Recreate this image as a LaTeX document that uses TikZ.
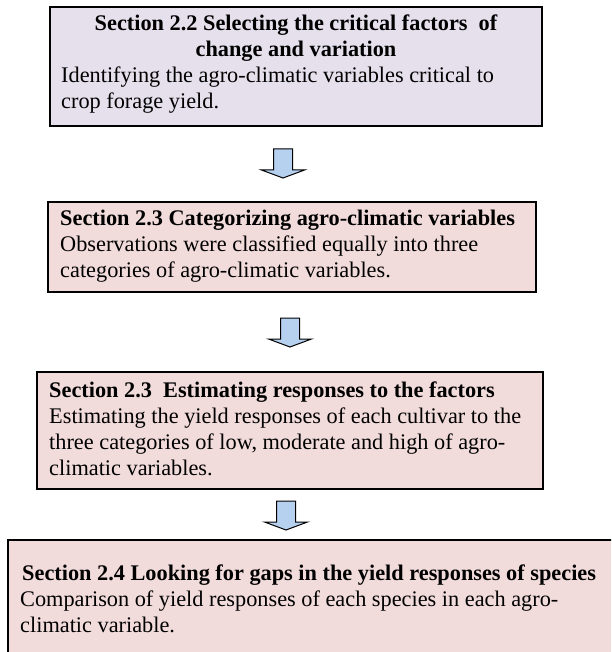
\documentclass[tikz,border=0pt]{standalone}
\usepackage{fontspec}
\setmainfont{Liberation Serif}
\definecolor{lav}{HTML}{E5E0EC}
\definecolor{pinkbox}{HTML}{F2DCDB}
\definecolor{arrowblue}{HTML}{B6D0F0}
\tikzset{
  boxa/.style={draw=black, line width=1.2pt, fill=lav},
  boxb/.style={draw=black, line width=1.2pt, fill=pinkbox},
  txt/.style={anchor=base west, inner sep=0pt, font=\fontsize{22.3}{26}\selectfont},
  ttl/.style={txt, font=\fontsize{22.3}{26}\selectfont\bfseries},
  ctr/.style={anchor=base, inner sep=0pt, font=\fontsize{22.3}{26}\selectfont\bfseries},
  arrowstyle/.style={draw=black, line width=1pt, fill=arrowblue, line join=miter},
  downarr/.pic={\draw[arrowstyle] (-9.5,-29) -- (9.5,-29) -- (9.5,-8) -- (21.5,-8) -- (0,0) -- (-21.5,-8) -- (-9.5,-8) -- cycle;}
}
\begin{document}
\begin{tikzpicture}[x=1pt,y=-1pt]
\useasboundingbox (0,0) rectangle (611,652);
\clip (0,0) rectangle (611,652);
% boxes
\path[boxa] (50,7) rectangle (542,126);
\node[inner sep=0pt, minimum width=492pt, minimum height=119pt] (b1) at (296,66.5) {};
\path[boxb] (48,202) rectangle (536,292);
\node[inner sep=0pt, minimum width=488pt, minimum height=90pt] (b2) at (292,247) {};
\path[boxb] (37,372) rectangle (543,489);
\node[inner sep=0pt, minimum width=506pt, minimum height=117pt] (b3) at (290,430.5) {};
\path[boxb] (8,540) rectangle (630,670);
\node[inner sep=0pt, minimum width=622pt, minimum height=130pt] (b4) at (319,605) {};
% texts box 1
\node[ctr] (t1a) at (296,31) {Section 2.2 Selecting the critical factors\ \ of};
\node[ctr] (t1b) at (296,57) {change and variation};
\node[txt] (t1c) at (61,83) {Identifying the agro-climatic variables critical to};
\node[txt] (t1d) at (61,109) {crop forage yield.};
% box 2
\node[ttl] (t2a) at (60,225) {Section 2.3 Categorizing agro-climatic variables};
\node[txt] (t2b) at (60,251) {Observations were classified equally into three};
\node[txt] (t2c) at (60,277) {categories of agro-climatic variables.};
% box 3
\node[ttl] (t3a) at (49,397) {Section 2.3\ \ Estimating responses to the factors};
\node[txt] (t3b) at (49,423) {Estimating the yield responses of each cultivar to the};
\node[txt] (t3c) at (49,449) {three categories of low, moderate and high of agro-};
\node[txt] (t3d) at (49,475) {climatic variables.};
% box 4
\node[ttl] (t4a) at (22,580) {Section 2.4 Looking for gaps in the yield responses of species};
\node[txt] (t4b) at (20,606) {Comparison of yield responses of each species in each agro-};
\node[txt] (t4c) at (20,632) {climatic variable.};
% arrows
\pic at (283,178) {downarr};
\pic at (290,347) {downarr};
\pic at (286,530) {downarr};
\end{tikzpicture}
\end{document}
